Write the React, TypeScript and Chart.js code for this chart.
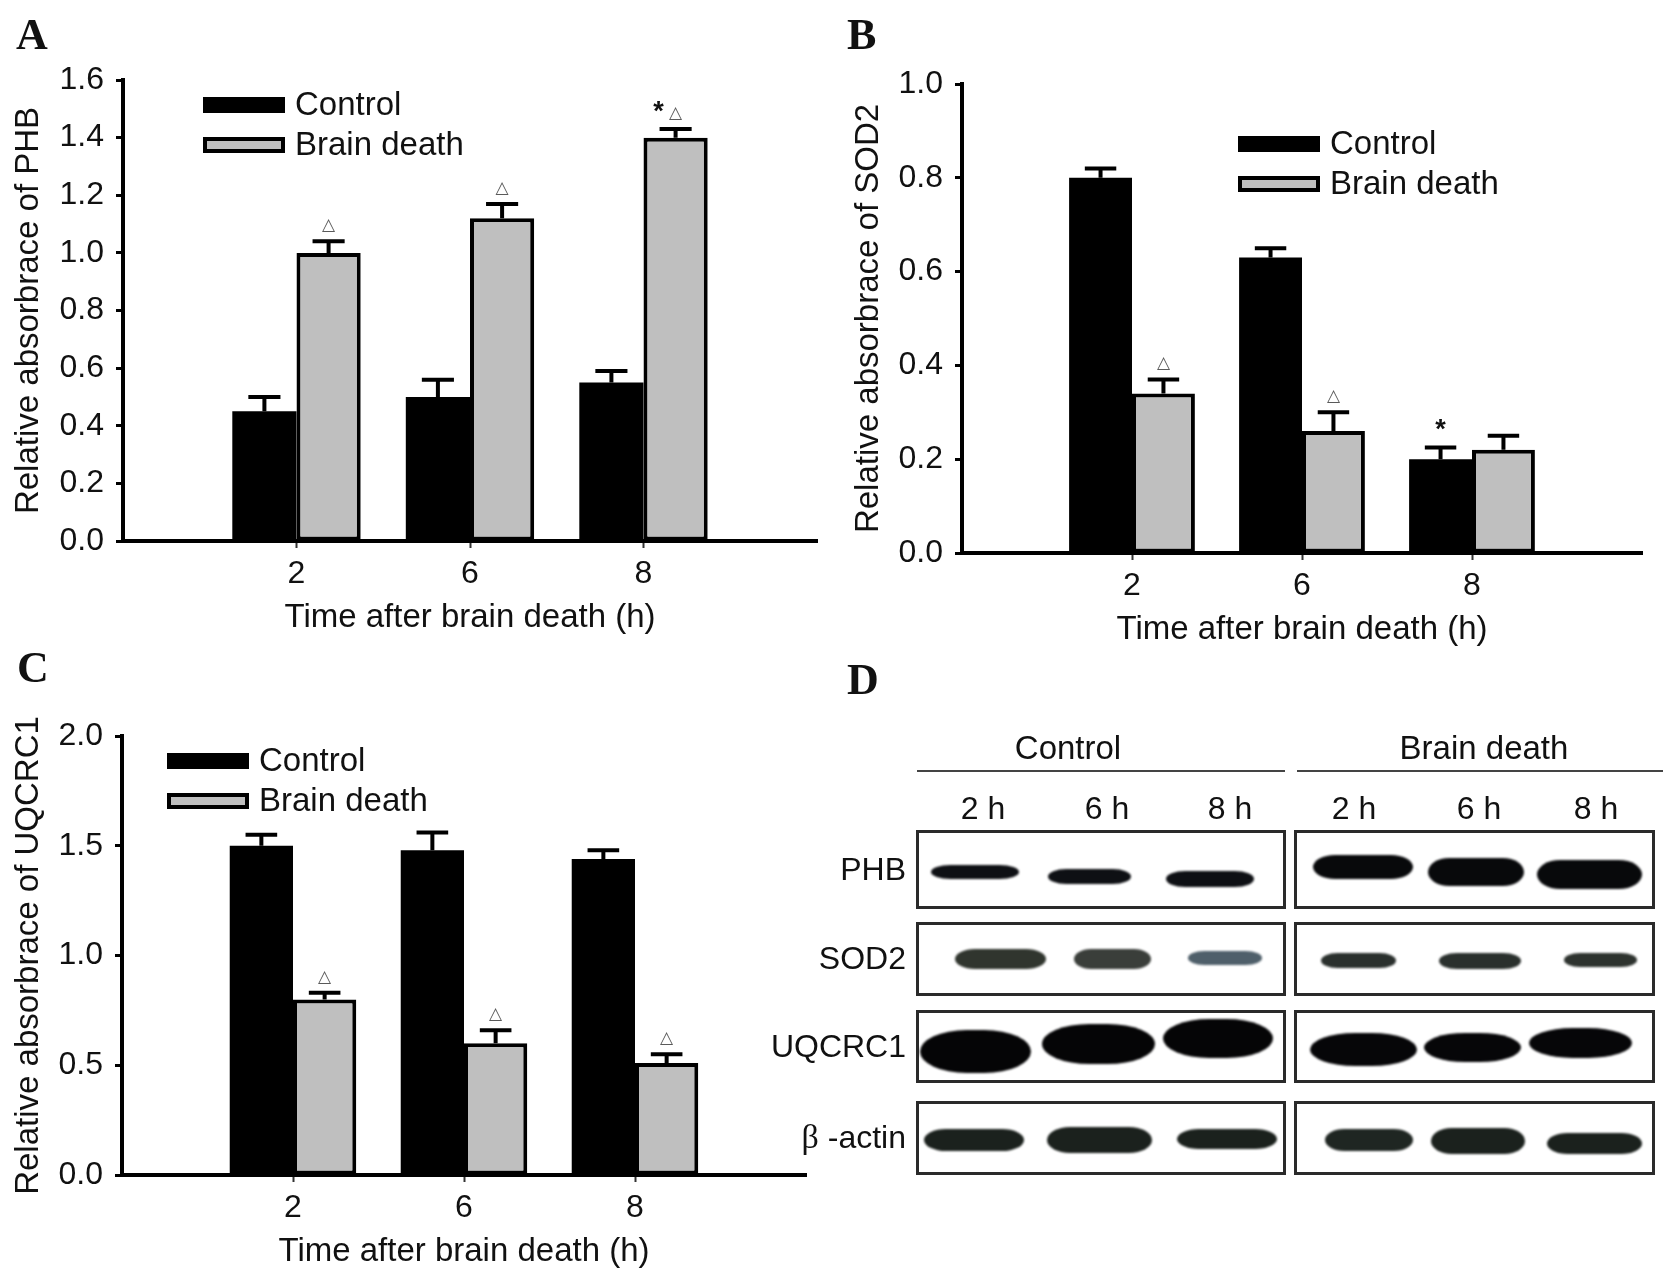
import { useEffect, useRef } from 'react';
import Chart from 'chart.js/auto';

Chart.defaults.font.family = '"Liberation Sans", Arial, sans-serif';

// shared categories / legend
const timePoints = ['2', '6', '8'];
const seriesNames = ['Control', 'Brain death'];

// A: PHB
const phbTicks = [0, 0.2, 0.4, 0.6, 0.8, 1.0, 1.2, 1.4, 1.6];
const phbControl = [0.45, 0.5, 0.55];
const phbControlErr = [0.05, 0.06, 0.04];
const phbBrainDeath = [1.0, 1.12, 1.4];
const phbBrainDeathErr = [0.04, 0.05, 0.03];
const phbControlMarks = ['', '', ''];
const phbBrainDeathMarks = ['△', '△', '*△'];

// B: SOD2
const sod2Ticks = [0, 0.2, 0.4, 0.6, 0.8, 1.0];
const sod2Control = [0.8, 0.63, 0.2];
const sod2ControlErr = [0.02, 0.02, 0.025];
const sod2BrainDeath = [0.34, 0.26, 0.22];
const sod2BrainDeathErr = [0.03, 0.04, 0.03];
const sod2ControlMarks = ['', '', '*'];
const sod2BrainDeathMarks = ['△', '△', ''];

// C: UQCRC1
const uqTicks = [0, 0.5, 1.0, 1.5, 2.0];
const uqControl = [1.5, 1.48, 1.44];
const uqControlErr = [0.05, 0.08, 0.04];
const uqBrainDeath = [0.8, 0.6, 0.51];
const uqBrainDeathErr = [0.03, 0.06, 0.04];
const uqControlMarks = ['', '', ''];
const uqBrainDeathMarks = ['△', '△', '△'];

// D: western blot
const blotGroups = ['Control', 'Brain death'];
const blotLanes = ['2 h', '6 h', '8 h'];
const blotProteins = ['PHB', 'SOD2', 'UQCRC1', '\u03b2 -actin'];

const errorBarPlugin = {
  id: 'errorBars',
  afterDatasetsDraw(chart: any) {
    const { ctx } = chart;
    const y = chart.scales.y;
    chart.data.datasets.forEach((ds: any, di: number) => {
      const meta = chart.getDatasetMeta(di);
      meta.data.forEach((bar: any, i: number) => {
        const v = ds.data[i];
        const e = ds.errors ? ds.errors[i] : null;
        if (v == null || e == null) return;
        const yBar = y.getPixelForValue(v);
        const yCap = y.getPixelForValue(v + e);
        const half = bar.width / 4;
        ctx.save();
        ctx.strokeStyle = '#000';
        ctx.lineWidth = 4;
        ctx.beginPath();
        ctx.moveTo(bar.x, yBar);
        ctx.lineTo(bar.x, yCap);
        ctx.moveTo(bar.x - half, yCap);
        ctx.lineTo(bar.x + half, yCap);
        ctx.stroke();
        const mark: string = ds.marks ? ds.marks[i] || '' : '';
        const tri = mark.includes('△');
        const star = mark.includes('*');
        if (tri) {
          ctx.font = 'bold 17px "DejaVu Sans"';
          ctx.fillStyle = '#5a5a5a';
          ctx.textAlign = 'center';
          ctx.textBaseline = 'alphabetic';
          ctx.fillText('△', bar.x, yCap - 11);
        }
        if (star) {
          ctx.font = 'bold 27px "Liberation Sans"';
          ctx.fillStyle = '#111';
          ctx.textAlign = 'center';
          ctx.textBaseline = 'alphabetic';
          ctx.fillText('*', tri ? bar.x - 17 : bar.x, yCap - 24 + 15);
        }
        ctx.restore();
      });
    });
  },
};

const boxLegendPlugin = {
  id: 'boxLegend',
  afterDraw(chart: any, _args: any, opts: any) {
    const { ctx } = chart;
    chart.data.datasets.forEach((ds: any, i: number) => {
      const x = opts.x;
      const y = opts.y + i * 40;
      ctx.save();
      ctx.fillStyle = ds.backgroundColor;
      ctx.fillRect(x, y, 82, 16);
      ctx.strokeStyle = '#000';
      ctx.lineWidth = 4;
      ctx.strokeRect(x + 2, y + 2, 78, 12);
      ctx.fillStyle = '#111';
      ctx.font = '33px "Liberation Sans"';
      ctx.textAlign = 'left';
      ctx.textBaseline = 'middle';
      ctx.fillText(ds.label, x + 92, y + 9);
      ctx.restore();
    });
  },
};

interface PanelProps {
  left: number;
  top: number;
  width: number;
  height: number;
  plotLeft: number;
  plotTop: number;
  plotRight: number;
  plotBottom: number;
  titlePad: number;
  yTitle: string;
  yTicks: number[];
  control: number[];
  controlErr: number[];
  controlMarks: string[];
  brainDeath: number[];
  brainDeathErr: number[];
  brainDeathMarks: string[];
  legendX: number;
  legendY: number;
}

function BarPanel(p: PanelProps) {
  const canvasRef = useRef<HTMLCanvasElement>(null);

  useEffect(() => {
    if (!canvasRef.current) return;
    const pad = (a: any[]) => [null, ...a, null];
    const last = timePoints.length + 1;
    const chart = new Chart(canvasRef.current, {
      type: 'bar',
      data: {
        labels: ['', ...timePoints, ''],
        datasets: [
          {
            label: seriesNames[0],
            data: pad(p.control),
            errors: pad(p.controlErr),
            marks: pad(p.controlMarks),
            backgroundColor: '#000',
            borderColor: '#000',
            borderWidth: 0,
          } as any,
          {
            label: seriesNames[1],
            data: pad(p.brainDeath),
            errors: pad(p.brainDeathErr),
            marks: pad(p.brainDeathMarks),
            backgroundColor: '#bfbfbf',
            borderColor: '#000',
            borderWidth: 4,
            borderSkipped: false,
          } as any,
        ],
      },
      options: {
        responsive: true,
        maintainAspectRatio: false,
        animation: false,
        events: [],
        categoryPercentage: 0.74,
        barPercentage: 1,
        layout: { padding: { left: 0, top: p.plotTop, right: p.width - p.plotRight, bottom: 0 } },
        plugins: {
          legend: { display: false },
          tooltip: { enabled: false },
          boxLegend: { x: p.legendX, y: p.legendY },
        } as any,
        scales: {
          x: {
            offset: false,
            grid: {
              offset: false,
              drawOnChartArea: false,
              tickLength: 7,
              tickWidth: 2,
              tickColor: (c: any) => (c.index === 0 || c.index === last ? 'rgba(0,0,0,0)' : '#333'),
            },
            border: { color: '#000', width: 4 },
            ticks: { color: '#111', font: { size: 32 }, padding: 7, autoSkip: false, maxRotation: 0 },
            title: {
              display: true,
              text: 'Time after brain death (h)',
              color: '#111',
              font: { size: 33 },
              padding: { top: 0, bottom: p.titlePad },
            },
            afterFit: (s: any) => {
              s.height = p.height - p.plotBottom;
            },
          },
          y: {
            min: 0,
            max: p.yTicks[p.yTicks.length - 1],
            afterBuildTicks: (s: any) => {
              s.ticks = p.yTicks.map((v) => ({ value: v }));
            },
            grid: { drawOnChartArea: false, tickLength: 7, tickWidth: 3, tickColor: '#000' },
            border: { color: '#000', width: 4 },
            ticks: {
              color: '#111',
              font: { size: 32 },
              padding: 12,
              callback: (v: any) => Number(v).toFixed(1),
            },
            title: {
              display: true,
              text: p.yTitle,
              color: '#111',
              font: { size: 33 },
              padding: { top: 9, bottom: 0 },
            },
            afterFit: (s: any) => {
              s.width = p.plotLeft;
            },
          },
        },
      },
      plugins: [errorBarPlugin, boxLegendPlugin],
    });
    return () => chart.destroy();
  }, []);

  return (
    <div style={{ position: 'absolute', left: p.left, top: p.top, width: p.width, height: p.height }}>
      <canvas ref={canvasRef} />
    </div>
  );
}

// band boxes in page pixels: [x1, x2, y1, y2, colour]
const blotBands: [number, number, number, number, string][][] = [
  [
    [931, 1019, 865, 879, '#0e1014'],
    [1048, 1131, 869, 884, '#0e1014'],
    [1166, 1254, 871, 887, '#0e1014'],
    [1313, 1413, 855, 879, '#08090b'],
    [1428, 1524, 858, 886, '#08090b'],
    [1537, 1642, 860, 889, '#08090b'],
  ],
  [
    [955, 1046, 949, 969, '#30352e'],
    [1074, 1151, 949, 969, '#3a3e3a'],
    [1188, 1262, 951, 965, '#4f5f6a'],
    [1321, 1396, 953, 968, '#2a302d'],
    [1439, 1521, 953, 969, '#2a302d'],
    [1564, 1637, 953, 967, '#2e332f'],
  ],
  [
    [920, 1031, 1030, 1073, '#050506'],
    [1042, 1155, 1024, 1064, '#050506'],
    [1163, 1273, 1019, 1058, '#050506'],
    [1310, 1417, 1033, 1066, '#060608'],
    [1424, 1521, 1033, 1062, '#060608'],
    [1529, 1632, 1028, 1058, '#060608'],
  ],
  [
    [924, 1024, 1129, 1151, '#1b211d'],
    [1047, 1152, 1127, 1153, '#1b211d'],
    [1177, 1277, 1129, 1149, '#1b211d'],
    [1325, 1413, 1129, 1151, '#1f2622'],
    [1431, 1525, 1128, 1154, '#1b211d'],
    [1547, 1642, 1133, 1154, '#1b211d'],
  ],
];
const blotRowBoxes = [
  [830, 909],
  [922, 996],
  [1010, 1083],
  [1101, 1175],
];
const blotGroupBoxes = [
  [916, 1286],
  [1294, 1655],
];
const blotGroupLines = [
  [917, 1285],
  [1297, 1663],
];
const blotGroupCentres = [1068, 1484];
const blotLaneCentres = [983, 1107, 1230, 1354, 1479, 1596];

function Blot() {
  const abs = { position: 'absolute' as const };
  return (
    <div style={{ ...abs, left: 0, top: 0, width: 1678, height: 1283 }}>
      {blotGroups.map((g, gi) => (
        <div key={g}>
          <div
            style={{
              ...abs,
              left: blotGroupCentres[gi] - 150,
              width: 300,
              top: 729,
              fontSize: 33,
              lineHeight: '38px',
              textAlign: 'center',
            }}
          >
            {g}
          </div>
          <div
            style={{
              ...abs,
              left: blotGroupLines[gi][0],
              width: blotGroupLines[gi][1] - blotGroupLines[gi][0],
              top: 770,
              height: 2,
              background: '#444',
            }}
          />
        </div>
      ))}
      {blotGroups.flatMap((g) => blotLanes.map((l) => g + l)).map((k, i) => (
        <div
          key={k}
          style={{ ...abs, left: blotLaneCentres[i] - 40, width: 80, top: 789, fontSize: 32, lineHeight: '38px', textAlign: 'center' }}
        >
          {blotLanes[i % 3]}
        </div>
      ))}
      {blotProteins.map((name, ri) => (
        <div key={name}>
          <div
            style={{
              ...abs,
              left: 700,
              width: 206,
              top: (blotRowBoxes[ri][0] + blotRowBoxes[ri][1]) / 2 - 20,
              fontSize: 32,
              lineHeight: '38px',
              textAlign: 'right',
            }}
          >
            {ri === 3 ? (
              <>
                <span style={{ fontFamily: '"Liberation Serif", serif', fontSize: 34 }}>{'\u03b2'}</span>
                {' -actin'}
              </>
            ) : (
              name
            )}
          </div>
          {blotGroupBoxes.map((b, bi) => (
            <div
              key={bi}
              style={{
                ...abs,
                left: b[0],
                top: blotRowBoxes[ri][0],
                width: b[1] - b[0],
                height: blotRowBoxes[ri][1] - blotRowBoxes[ri][0],
                border: '3px solid #2a2a2a',
                boxSizing: 'border-box',
              }}
            />
          ))}
          {blotBands[ri].map(([x1, x2, y1, y2, c], bi) => (
            <div
              key={bi}
              style={{
                ...abs,
                left: x1,
                top: y1,
                width: x2 - x1,
                height: y2 - y1,
                background: c,
                borderRadius: ri === 2 ? '42% / 50%' : '22% / 50%',
                filter: 'blur(1.2px)',
              }}
            />
          ))}
        </div>
      ))}
    </div>
  );
}

const letterStyle = {
  position: 'absolute' as const,
  fontFamily: '"Liberation Serif", "Times New Roman", serif',
  fontWeight: 'bold' as const,
  fontSize: 44,
  lineHeight: '44px',
};

export default function App() {
  return (
    <div
      style={{
        position: 'absolute',
        left: 0,
        top: 0,
        width: 1678,
        height: 1283,
        background: '#fff',
        overflow: 'hidden',
        color: '#111',
        fontFamily: '"Liberation Sans", Arial, sans-serif',
      }}
    >
      <BarPanel
        left={0}
        top={0}
        width={840}
        height={650}
        plotLeft={123}
        plotTop={80}
        plotRight={817}
        plotBottom={541}
        titlePad={12}
        yTitle="Relative absorbrace of PHB"
        yTicks={phbTicks}
        control={phbControl}
        controlErr={phbControlErr}
        controlMarks={phbControlMarks}
        brainDeath={phbBrainDeath}
        brainDeathErr={phbBrainDeathErr}
        brainDeathMarks={phbBrainDeathMarks}
        legendX={203}
        legendY={97}
      />
      <BarPanel
        left={840}
        top={0}
        width={838}
        height={660}
        plotLeft={122}
        plotTop={84}
        plotRight={802}
        plotBottom={553}
        titlePad={10}
        yTitle="Relative absorbrace of SOD2"
        yTicks={sod2Ticks}
        control={sod2Control}
        controlErr={sod2ControlErr}
        controlMarks={sod2ControlMarks}
        brainDeath={sod2BrainDeath}
        brainDeathErr={sod2BrainDeathErr}
        brainDeathMarks={sod2BrainDeathMarks}
        legendX={398}
        legendY={136}
      />
      <BarPanel
        left={0}
        top={640}
        width={840}
        height={643}
        plotLeft={122}
        plotTop={96}
        plotRight={806}
        plotBottom={535}
        titlePad={11}
        yTitle="Relative absorbrace of UQCRC1"
        yTicks={uqTicks}
        control={uqControl}
        controlErr={uqControlErr}
        controlMarks={uqControlMarks}
        brainDeath={uqBrainDeath}
        brainDeathErr={uqBrainDeathErr}
        brainDeathMarks={uqBrainDeathMarks}
        legendX={167}
        legendY={113}
      />
      <Blot />
      <div style={{ ...letterStyle, left: 16, top: 13 }}>A</div>
      <div style={{ ...letterStyle, left: 847, top: 13 }}>B</div>
      <div style={{ ...letterStyle, left: 17, top: 646 }}>C</div>
      <div style={{ ...letterStyle, left: 847, top: 658 }}>D</div>
    </div>
  );
}
